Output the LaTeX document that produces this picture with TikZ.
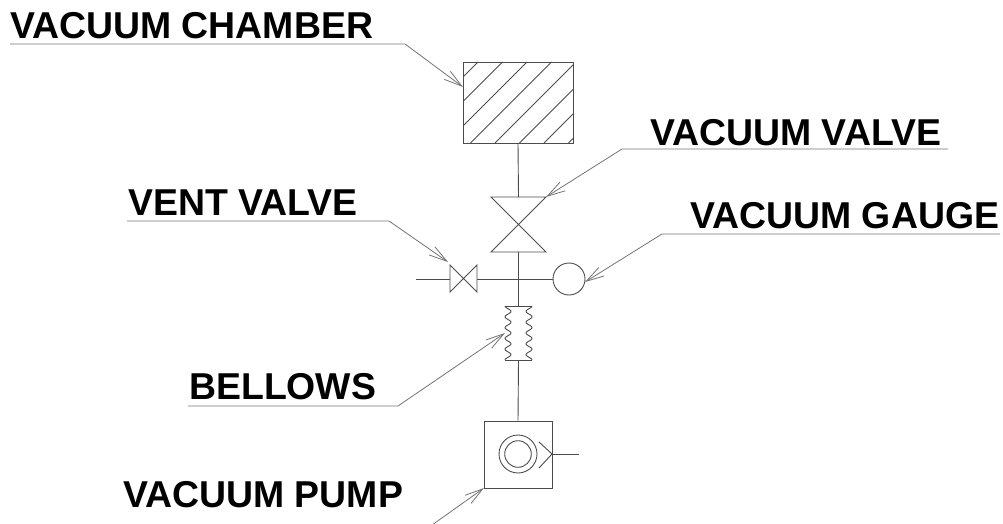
\documentclass[tikz,border=0pt]{standalone}
\usepackage{fontspec}
\setmainfont{Liberation Sans}
\usetikzlibrary{arrows.meta}
\begin{document}
\begin{tikzpicture}[x=1pt,y=-1pt,
  pipe/.style={draw=black!70, line width=0.9pt},
  leader/.style={draw=black!55, line width=0.8pt, -{Straight Barb[length=18pt,width=10pt]}},
  lbl/.style={font=\bfseries\fontsize{37.4}{40}\selectfont, anchor=base west, inner sep=0pt},
]
\useasboundingbox (0,0) rectangle (1003,524);
\clip (0,0) rectangle (1003,524);

% labels
\node[lbl] (lc) at (10,39) {VACUUM CHAMBER};
\node[lbl] (lv) at (650,145) {VACUUM VALVE};
\node[lbl] (lg) at (690,228) {VACUUM GAUGE};
\node[lbl] (lvent) at (128,215) {VENT VALVE};
\node[lbl] (lb) at (189,399) {BELLOWS};
\node[lbl] (lp) at (123,507) {VACUUM PUMP};

% chamber
\node[draw=black!70, line width=0.9pt, minimum width=110pt, minimum height=81pt, inner sep=0pt] (chamber) at (518,102.5) {};
\begin{scope}
  \clip (463,62) rectangle (573,143);
  \foreach \c in {540,564.5,...,712}
    \draw[pipe] (\c-62,62) -- (\c-143,143);
\end{scope}
\node[draw=black!70, line width=0.9pt, minimum width=110pt, minimum height=81pt, inner sep=0pt] at (518,102.5) {};

% vacuum valve (vertical bowtie)
\coordinate (vvt) at (518.5,197);
\coordinate (vvb) at (518.5,252);
\draw[pipe] (491,197) -- (546,197) -- (491,252) -- (546,252) -- cycle;

% vent valve (horizontal bowtie)
\coordinate (ventL) at (450,279);
\coordinate (ventR) at (477,279);
\coordinate (stub) at (416,279);
\draw[pipe] (450,265) -- (450,292) -- (477,265) -- (477,292) -- cycle;

% gauge
\node[draw=black!70, line width=0.9pt, circle, minimum size=32pt, inner sep=0pt] (gauge) at (569,279) {};

% bellows
\coordinate (bt) at (518.5,306);
\coordinate (bb) at (518.5,360);
\draw[pipe] (505,306) -- (532,306);
\draw[pipe] (505,360) -- (532,360);
\draw[pipe] plot[domain=0:1, samples=80, smooth] ({508-3*cos(360*5*\x)}, {306+54*\x});
\draw[pipe] plot[domain=0:1, samples=80, smooth] ({529+3*cos(360*5*\x)}, {306+54*\x});

% pump
\node[draw=black!70, line width=0.9pt, minimum width=68pt, minimum height=67pt, inner sep=0pt] (pump) at (518,454.5) {};
\draw[pipe] (518,454) circle (19);
\draw[pipe] (518,454) circle (13.3);
\coordinate (pout) at (579,454);
\draw[pipe] (539,442) -- (552,454) -- (539,468);
\draw[pipe] (552,454) -- (pout);

% pipes
\draw[pipe] (chamber.south) -- (vvt);
\draw[pipe] (vvb) -- (bt);
\draw[pipe] (bb) -- (pump.north);
\draw[pipe] (ventR) -- (gauge.west);
\draw[pipe] (stub) -- (ventL);

% leaders
\coordinate (tc) at (463,87);
\coordinate (tv) at (546,197);
\coordinate (tg) at (585,282);
\coordinate (tvent) at (448,262);
\coordinate (tb) at (505,333);
\coordinate (tp) at (484,488);
\draw[leader] (lc.base west) ++(0,5) -- (405,44) -- (tc);
\draw[leader] (948,149) -- (622,149) -- (tv);
\draw[leader] (1000,234) -- (662,234) -- (tg);
\draw[leader] (lvent.base west) ++(-1,6) -- (389,221) -- (tvent);
\draw[leader] (lb.base west) ++(-1,7) -- (398,406) -- (tb);
\draw[leader] (lp.base west) ++(-3,23) -- (425,530) -- (tp);
\end{tikzpicture}
\end{document}
